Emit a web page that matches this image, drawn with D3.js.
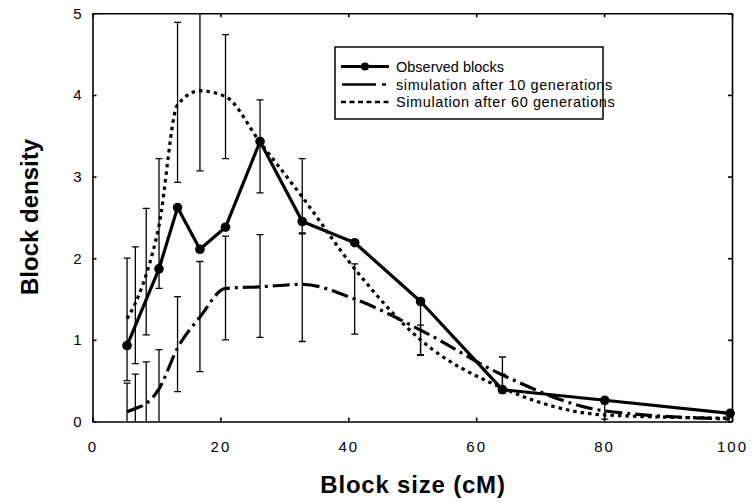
<!DOCTYPE html>
<html><head><meta charset="utf-8">
<script src="https://cdn.jsdelivr.net/npm/d3@7"></script>
<style>body{margin:0;background:#fff}svg{display:block}text{font-family:"Liberation Sans",Arial,Helvetica,sans-serif;fill:#000}</style>
</head><body>
<svg id="c" width="755" height="503"></svg>
<script>
// ---- data ----
const binX   = [5.4, 6.7, 8.4, 10.4, 13.3, 16.8, 20.8, 26.2, 32.8, 41.0, 51.3, 64.1, 80.1, 99.7];
const sim10  = [0.12, 0.16, 0.22, 0.40, 0.90, 1.28, 1.63, 1.65, 1.68, 1.50, 1.12, 0.57, 0.13, 0.03];
const sim60  = [1.26, 1.45, 1.80, 2.40, 3.88, 4.05, 3.98, 3.42, 2.75, 1.87, 1.00, 0.41, 0.08, 0.04];
const sim60Lo = [0.50, 0.71, 1.06, 1.63, 2.93, 3.07, 3.22, 2.80, 2.30, null, 0.82, 0.35, null, null];
const sim60Hi = [2.00, 2.14, 2.61, 3.22, 4.89, 5.03, 4.74, 3.94, 3.22, null, 1.18, 0.58, null, null];
const sim10Lo = [0, 0, 0, 0, 0.365, 0.61, 1.00, 1.03, 0.98, 1.07, 0.81, 0.35, 0.03, null];
const sim10Hi = [0.47, 0.58, 0.73, 0.88, 1.53, 1.96, 2.27, 2.29, 2.31, 1.93, 1.47, 0.79, 0.22, null];
const obsX = [5.4, 10.4, 13.3, 16.8, 20.8, 26.2, 32.8, 41.0, 51.3, 64.1, 80.1, 99.7];
const obsY = [0.93, 1.87, 2.62, 2.11, 2.38, 3.43, 2.45, 2.19, 1.47, 0.39, 0.26, 0.10];
const xTicks = [0, 20, 40, 60, 80, 100];
const yTicks = [0, 1, 2, 3, 4, 5];
const legendLabels = ["Observed blocks", "simulation after 10 generations", "Simulation after 60 generations"];

// ---- drawing ----
const svg = d3.select("#c");
const L = 92.5, R = 732, T = 13.3, B = 421.5;
const x = d3.scaleLinear().domain([0, 100]).range([L, R]);
const y = d3.scaleLinear().domain([0, 5]).range([B, T]);

svg.append("clipPath").attr("id", "clip").append("rect")
  .attr("x", L).attr("y", T).attr("width", R - L).attr("height", B - T);
const plot = svg.append("g").attr("clip-path", "url(#clip)");

// error bars
function bars(lo, hi) {
  binX.forEach((bx, i) => {
    if (lo[i] == null) return;
    const g = plot.append("g").attr("stroke", "#000").attr("stroke-width", 1.3);
    const px = x(bx);
    g.append("line").attr("x1", px).attr("x2", px).attr("y1", y(lo[i])).attr("y2", y(hi[i]));
    [lo[i], hi[i]].forEach(v => {
      if (v <= 0) return;
      g.append("line").attr("x1", px - 3.5).attr("x2", px + 3.5).attr("y1", y(v)).attr("y2", y(v));
    });
  });
}
bars(sim60Lo, sim60Hi);
bars(sim10Lo, sim10Hi);

const line = d3.line().x(d => x(d[0])).y(d => y(d[1])).curve(d3.curveMonotoneX);
plot.append("path").datum(binX.map((v, i) => [v, sim60[i]]))
  .attr("d", line).attr("fill", "none").attr("stroke", "#000")
  .attr("stroke-width", 3.2).attr("stroke-dasharray", "3.5,4");
plot.append("path").datum(binX.map((v, i) => [v, sim10[i]]))
  .attr("d", line).attr("fill", "none").attr("stroke", "#000")
  .attr("stroke-width", 3.2).attr("stroke-dasharray", "17,5,3,5");

const obs = obsX.map((v, i) => [v, obsY[i]]);
plot.append("path").datum(obs)
  .attr("d", d3.line().x(d => x(d[0])).y(d => y(d[1])))
  .attr("fill", "none").attr("stroke", "#000").attr("stroke-width", 3.2).attr("stroke-linejoin", "round");
svg.append("g").selectAll("circle").data(obs).join("circle")
  .attr("cx", d => x(d[0])).attr("cy", d => y(d[1])).attr("r", 4.8).attr("fill", "#000");

// axes (frame with inward ticks)
const tl = 4;
svg.append("g").attr("transform", `translate(0,${B})`)
  .call(d3.axisBottom(x).tickValues(xTicks).tickFormat(d3.format("d")).tickSizeInner(-tl).tickSizeOuter(0).tickPadding(20))
  .call(g => g.selectAll("text").attr("font-size", 15).attr("letter-spacing", "2px"));
svg.append("g").attr("transform", `translate(0,${T})`)
  .call(d3.axisTop(x).tickValues(xTicks).tickSizeInner(-tl).tickSizeOuter(0).tickFormat(""));
svg.append("g").attr("transform", `translate(${L},0)`)
  .call(d3.axisLeft(y).tickValues(yTicks).tickFormat(d3.format("d")).tickSizeInner(-tl).tickSizeOuter(0).tickPadding(11))
  .call(g => g.selectAll("text").attr("font-size", 15));
svg.append("g").attr("transform", `translate(${R},0)`)
  .call(d3.axisRight(y).tickValues(yTicks).tickSizeInner(-tl).tickSizeOuter(0).tickFormat(""));
svg.selectAll(".domain, .tick line").attr("stroke", "#000").attr("stroke-width", 1.6);
svg.selectAll(".tick text").attr("font-family", "'Liberation Sans', Arial, sans-serif");

// axis titles
svg.append("text").attr("x", 413).attr("y", 493).attr("text-anchor", "middle")
  .attr("font-size", 24).attr("font-weight", "bold").attr("letter-spacing", "0.8px").text("Block size (cM)");
svg.append("text").attr("transform", "translate(38,217) rotate(-90)").attr("text-anchor", "middle")
  .attr("font-size", 24).attr("font-weight", "bold").text("Block density");

// legend
const lg = svg.append("g");
lg.append("rect").attr("x", 335).attr("y", 47).attr("width", 268).attr("height", 72)
  .attr("fill", "#fff").attr("stroke", "#000").attr("stroke-width", 1.5);
const rowY = [66.5, 84.5, 102];
lg.append("line").attr("x1", 341).attr("x2", 389).attr("y1", rowY[0]).attr("y2", rowY[0])
  .attr("stroke", "#000").attr("stroke-width", 2.8);
lg.append("circle").attr("cx", 365).attr("cy", rowY[0]).attr("r", 4).attr("fill", "#000");
lg.append("line").attr("x1", 342).attr("x2", 389).attr("y1", rowY[1]).attr("y2", rowY[1])
  .attr("stroke", "#000").attr("stroke-width", 2.6).attr("stroke-dasharray", "34,6,4,20");
lg.append("line").attr("x1", 341).attr("x2", 389).attr("y1", rowY[2]).attr("y2", rowY[2])
  .attr("stroke", "#000").attr("stroke-width", 2.6).attr("stroke-dasharray", "5,3.5");
legendLabels.forEach((t, i) => {
  lg.append("text").attr("x", 396).attr("y", rowY[i] + 5).attr("font-size", 14.5)
    .attr("letter-spacing", i === 0 ? "0px" : "0.6px").text(t);
});
</script>
</body></html>
